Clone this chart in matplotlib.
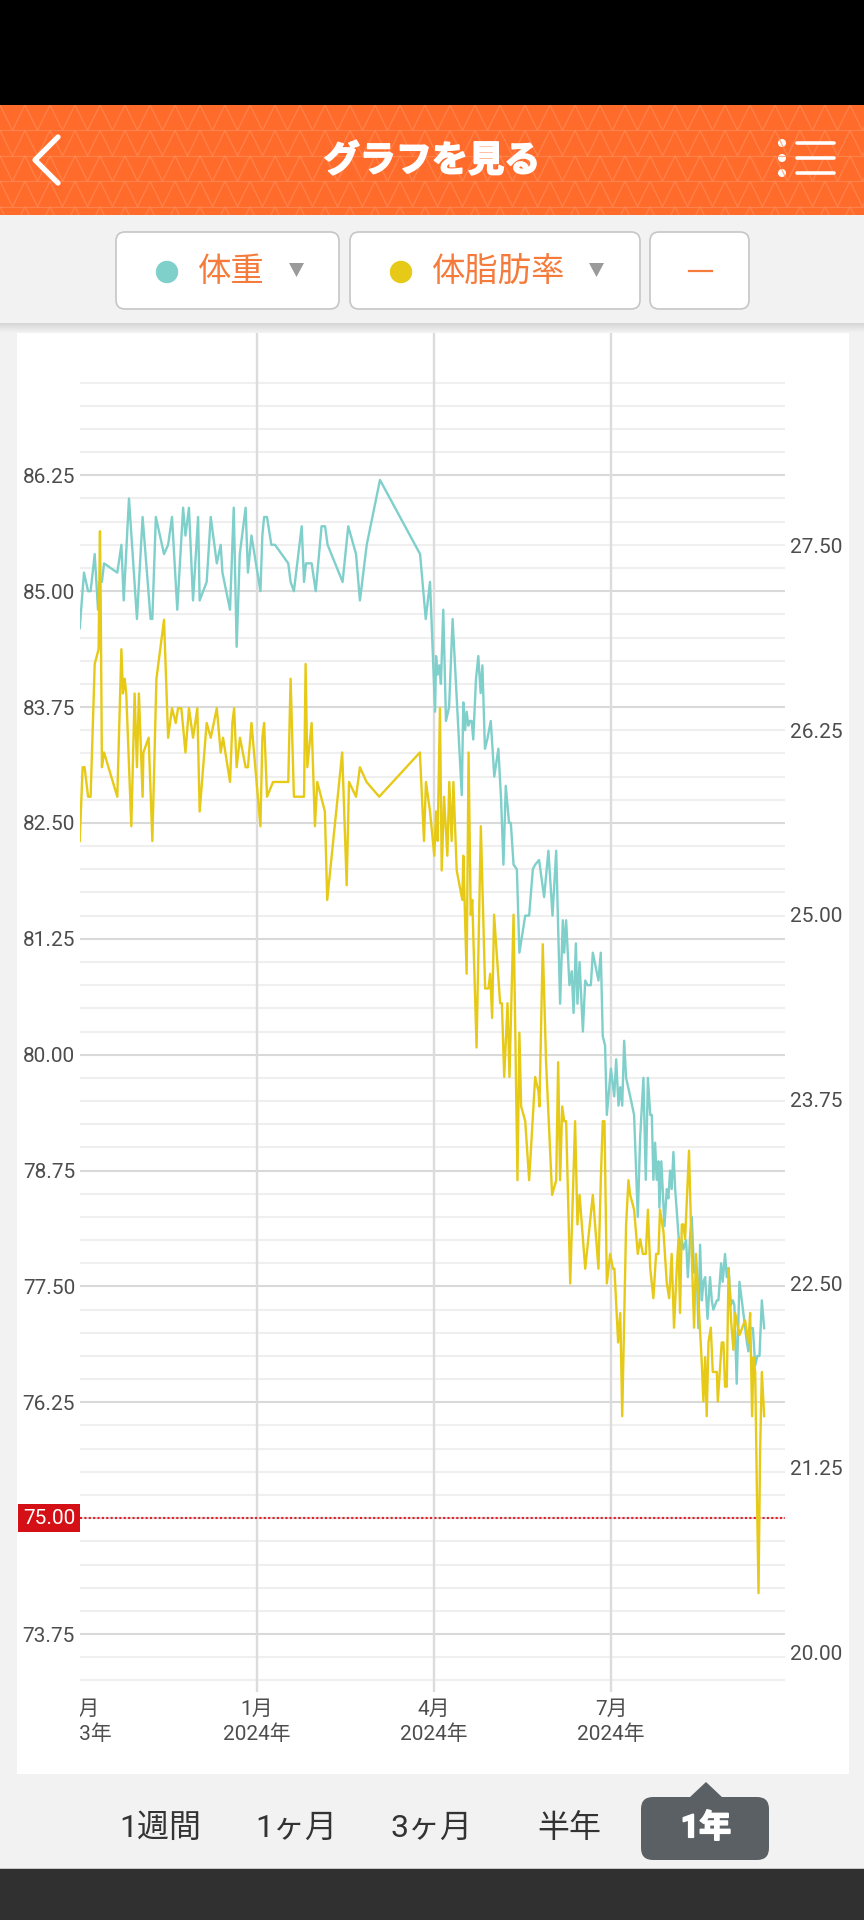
import numpy as np
import matplotlib.pyplot as plt
import matplotlib.patheffects as pe
from matplotlib.patches import Rectangle, FancyBboxPatch, Polygon, Circle

plt.rcParams['font.family'] = ['Roboto', 'Noto Sans CJK JP', 'DejaVu Sans']

# ---- data (x = days since 2023-10-01) ----
weight_day = [
    1.1, 3.3, 5.4, 6.7, 8.8, 10.5, 11.3, 12.5, 13.6, 20.4,
    22.5, 23.7, 26.4, 30.5, 33.4, 37.5, 38.4, 40.2, 44.4, 46.5,
    48.5, 51.2, 54.2, 55.4, 57.2, 59.3, 61.9, 62.7, 66.3, 68.4,
    71.5, 73.5, 74.4, 78.3, 80.2, 81.7, 83.3, 86.3, 87.5, 89.3,
    93.9, 94.9, 95.8, 97.3, 99.5, 101.4, 108.2, 109.4, 111.1, 115.1,
    116.3, 117.3, 120.2, 122.3, 125.3, 127.1, 128.4, 136.1, 139.0, 143.0,
    145.0, 148.5, 155.3, 175.9, 178.8, 181.0, 183.6, 184.1, 184.9, 185.8,
    186.6, 187.8, 189.2, 190.8, 192.6, 197.3, 198.1, 199.0, 199.8, 200.7,
    201.5, 202.4, 203.2, 204.6, 205.8, 207.0, 207.9, 209.2, 210.4, 212.2,
    214.0, 216.1, 217.5, 218.7, 219.9, 221.6, 222.5, 223.9, 225.6, 226.9,
    229.9, 231.9, 233.8, 235.0, 237.0, 239.6, 241.8, 243.9, 245.8, 247.8,
    249.2, 249.9, 250.9, 252.6, 253.8, 254.7, 255.9, 256.7, 257.8, 259.5,
    260.7, 261.9, 263.6, 264.6, 267.5, 268.7, 269.7, 270.9, 271.8, 273.9,
    275.6, 276.6, 277.8, 278.7, 279.7, 280.7, 281.7, 283.8, 285.8, 287.7,
    288.9, 290.6, 291.8, 292.9, 294.1, 294.9, 295.7, 296.6, 297.4, 298.3,
    298.8, 299.8, 301.4, 302.6, 303.4, 304.3, 305.1, 306.0, 306.9, 308.6,
    309.4, 310.3, 311.1, 312.5, 313.4, 314.6, 315.4, 316.6, 318.0, 318.8,
    319.7, 320.6, 321.4, 322.3, 323.5, 324.8, 325.7, 326.5, 328.3, 329.1,
    330.5, 331.3, 332.5, 333.4, 334.3, 335.5, 336.5, 337.3, 338.5, 339.9,
    341.1, 342.3, 343.7, 344.5, 345.4, 346.8, 348.0, 349.1, 350.2, 351.4,
    352.6,
]
weight_kg = [
    84.6, 85.2, 85.0, 85.0, 85.4, 84.8, 85.1, 85.1, 85.3, 85.2,
    85.5, 84.9, 86.0, 84.7, 85.8, 84.7, 84.7, 85.8, 85.4, 85.5,
    85.8, 84.8, 85.9, 85.6, 85.9, 84.9, 85.8, 84.9, 85.1, 85.8,
    85.3, 85.5, 85.2, 84.8, 85.9, 84.4, 85.4, 85.9, 85.2, 85.6,
    85.0, 85.6, 85.8, 85.8, 85.5, 85.5, 85.3, 85.1, 85.0, 85.7,
    85.1, 85.3, 85.3, 85.0, 85.7, 85.7, 85.5, 85.1, 85.7, 85.4,
    84.9, 85.5, 86.2, 85.4, 84.7, 85.1, 83.7, 84.3, 84.1, 84.2,
    84.0, 84.8, 83.6, 83.75, 84.7, 82.8, 83.8, 83.5, 83.7, 83.55,
    83.6, 83.6, 83.4, 84.05, 84.3, 83.9, 84.2, 83.3, 83.4, 83.6,
    83.0, 83.3, 82.75, 82.05, 82.9, 82.5, 82.5, 82.05, 82.0, 81.1,
    81.5, 81.5, 82.0, 82.05, 82.1, 81.7, 82.2, 81.5, 82.2, 80.55,
    81.45, 81.1, 81.45, 80.75, 80.9, 80.45, 81.2, 80.55, 81.0, 80.25,
    80.8, 80.75, 80.75, 81.1, 80.8, 81.1, 80.2, 80.1, 79.35, 79.85,
    79.55, 79.95, 79.45, 79.65, 79.45, 80.15, 79.75, 79.55, 79.35, 78.25,
    79.1, 79.75, 78.65, 79.75, 79.35, 79.35, 78.65, 79.05, 78.65, 78.85,
    78.35, 78.85, 78.15, 78.55, 78.45, 78.75, 78.55, 78.95, 78.55, 78.05,
    77.9, 78.0, 77.9, 78.0, 77.6, 78.05, 78.25, 77.65, 77.65, 77.05,
    77.95, 77.35, 77.55, 77.6, 77.15, 77.6, 77.35, 77.25, 77.35, 77.35,
    77.75, 77.55, 77.85, 77.6, 77.7, 77.3, 77.35, 77.3, 76.45, 77.55,
    77.35, 77.15, 76.9, 76.8, 77.05, 77.05, 76.65, 76.75, 76.75, 77.35,
    77.05,
]
fat_day = [
    1.1, 2.6, 3.6, 5.4, 6.7, 8.8, 10.8, 11.5, 11.9, 12.5,
    13.6, 20.4, 22.5, 23.3, 24.2, 25.0, 27.6, 29.3, 30.5, 31.5,
    33.4, 33.8, 36.5, 38.4, 40.5, 44.4, 46.5, 48.5, 50.4, 51.6,
    53.3, 55.4, 57.2, 59.3, 61.5, 62.7, 66.3, 68.4, 71.5, 73.5,
    74.7, 78.3, 79.5, 80.4, 81.7, 83.4, 86.3, 87.5, 89.3, 93.9,
    94.9, 95.8, 97.3, 100.4, 108.2, 109.4, 111.1, 116.3, 117.1, 118.0,
    120.2, 121.9, 123.1, 127.0, 128.2, 135.9, 138.2, 139.4, 143.0, 145.0,
    148.4, 154.9, 175.8, 177.9, 178.9, 181.0, 183.2, 184.1, 184.9, 186.1,
    187.0, 188.2, 189.9, 190.9, 192.1, 193.0, 194.7, 197.6, 198.1, 199.8,
    200.8, 201.9, 202.7, 204.9, 207.1, 209.3, 211.0, 211.9, 212.9, 213.9,
    217.0, 217.9, 219.1, 220.8, 221.8, 223.9, 225.9, 226.9, 227.8, 229.9,
    231.9, 235.0, 236.7, 237.2, 238.9, 240.6, 243.7, 245.8, 246.8, 247.8,
    248.9, 249.9, 250.9, 253.0, 255.5, 256.7, 257.8, 260.7, 264.6, 267.5,
    268.7, 269.7, 270.6, 271.8, 273.5, 274.9, 275.7, 277.6, 278.7, 279.7,
    281.7, 282.9, 283.8, 285.8, 287.7, 288.9, 290.3, 291.8, 292.9, 294.1,
    295.7, 297.1, 298.3, 299.1, 300.9, 302.6, 303.8, 305.1, 306.3, 307.7,
    308.6, 309.4, 310.3, 311.1, 312.0, 314.0, 315.4, 316.6, 317.6, 319.4,
    320.6, 321.4, 322.3, 323.1, 324.0, 325.2, 326.2, 328.3, 328.8, 330.8,
    331.7, 332.5, 333.4, 334.3, 335.6, 336.8, 337.7, 339.9, 342.8, 344.5,
    345.4, 346.4, 347.1, 348.0, 348.8, 349.7, 350.5, 351.4, 352.6,
]
fat_pct = [
    25.5, 26.0, 26.0, 25.8, 25.8, 26.7, 26.8, 27.6, 27.1, 26.0,
    26.1, 25.8, 26.8, 26.5, 26.6, 26.5, 25.6, 26.5, 26.0, 26.5,
    25.8, 26.1, 26.2, 25.5, 26.6, 27.0, 26.2, 26.4, 26.3, 26.4,
    26.4, 26.1, 26.4, 26.2, 26.4, 25.7, 26.3, 26.2, 26.4, 26.1,
    26.2, 25.9, 26.3, 26.4, 26.0, 26.2, 26.0, 26.0, 26.3, 25.6,
    26.2, 26.3, 25.8, 25.9, 25.9, 26.6, 25.8, 25.8, 26.7, 26.0,
    26.3, 25.6, 25.9, 25.7, 25.1, 26.1, 25.2, 25.9, 25.8, 26.0,
    25.9, 25.8, 26.1, 25.5, 25.9, 25.7, 25.4, 25.7, 25.5, 26.4,
    25.3, 25.8, 25.4, 25.9, 25.5, 25.9, 25.3, 25.1, 25.4, 24.6,
    26.1, 25.0, 25.1, 24.1, 25.6, 24.5, 24.5, 24.6, 24.3, 25.0,
    24.4, 24.4, 23.9, 24.4, 23.9, 25.0, 23.2, 24.2, 23.7, 23.6,
    23.2, 23.9, 23.8, 23.7, 24.8, 24.0, 23.1, 23.2, 24.0, 23.2,
    23.7, 23.6, 23.6, 22.5, 23.6, 22.9, 23.1, 22.6, 23.1, 22.6,
    23.2, 23.6, 23.6, 22.5, 22.7, 22.6, 22.6, 22.1, 22.3, 21.6,
    22.9, 23.2, 23.1, 23.0, 22.7, 22.8, 22.7, 22.7, 23.0, 22.6,
    22.4, 22.7, 22.7, 23.0, 22.85, 22.5, 22.4, 22.7, 22.2, 22.6,
    22.8, 22.3, 22.9, 22.9, 22.8, 23.4, 22.7, 22.2, 22.7, 22.25,
    21.95, 21.7, 22.0, 21.6, 22.1, 22.2, 21.9, 21.9, 21.7, 22.1,
    22.1, 21.8, 21.8, 22.6, 22.25, 22.05, 22.3, 22.15, 22.25, 22.1,
    22.3, 21.6, 22.0, 21.9, 21.15, 20.4, 21.35, 21.9, 21.6,
]
weight_ticks = [73.75, 75.00, 76.25, 77.50, 78.75, 80.00, 81.25, 82.50, 83.75, 85.00, 86.25]
fat_ticks = [20.00, 21.25, 22.50, 23.75, 25.00, 26.25, 27.50]
goal_weight = 75.00
month_day = [0, 92, 183, 274]
month_label = ['10月', '1月', '4月', '7月']
year_label = ['2023年', '2024年', '2024年', '2024年']
series_names = ['体重', '体脂肪率']
range_tabs = ['1週間', '1ヶ月', '3ヶ月', '半年', '1年']

TEAL = '#7fcfcb'
YELLOW = '#e6ca17'
ORANGE = '#f57b3c'
LABEL = '#4d4d4d'
CJK = ['Noto Sans CJK JP', 'DejaVu Sans']

W, H = 864, 1920
fig = plt.figure(figsize=(W / 100, H / 100), dpi=100)
fig.patch.set_facecolor('#f2f2f2')

# screen layer in pixel coordinates
ui = fig.add_axes([0, 0, 1, 1])
ui.set_xlim(0, W)
ui.set_ylim(H, 0)
ui.axis('off')
ui.set_zorder(0)

# status bar + orange header
ui.add_patch(Rectangle((0, 0), W, 105, color='black', lw=0))
hdr = Rectangle((0, 105), W, 110, color='#ff6b2b', lw=0)
ui.add_patch(hdr)
row_h = 25.4
for r in range(5):
    y0 = 105 + r * row_h
    xs = np.arange(-12.5, W + 25, 12.5)
    ys = [y0 + row_h if i % 2 == 0 else y0 for i in range(len(xs))]
    ln, = ui.plot(xs, ys, color='#ff8c58', lw=0.9, alpha=0.7)
    ln.set_clip_path(hdr)
    hl, = ui.plot([0, W], [y0 + row_h, y0 + row_h], color='#ff8c58', lw=0.9, alpha=0.7)
    hl.set_clip_path(hdr)

bold_white = [pe.withStroke(linewidth=1.3, foreground='white')]
ui.text(432, 161, 'グラフを見る', color='white', fontsize=26, fontweight='bold',
        ha='center', va='center', family=CJK, path_effects=bold_white)
ui.plot([58, 35, 58], [137, 160, 183], color='white', lw=3.8,
        solid_capstyle='round', solid_joinstyle='round')
for yy in (143, 158, 173):
    ui.add_patch(Circle((782, yy), 3.3, color='white'))
    ui.plot([797, 834], [yy, yy], color='white', lw=2.6, solid_capstyle='round')

# series selector bar
for k in range(10):
    g = 0.84 + 0.11 * k / 9
    ui.add_patch(Rectangle((0, 323 + k), W, 1, color=(g, g, g), lw=0))


def button(x0, x1):
    ui.add_patch(FancyBboxPatch((x0, 232), x1 - x0, 77,
                                boxstyle='round,pad=0,rounding_size=9',
                                fc='white', ec='#c6c6c6', lw=1.2))


button(116, 339)
button(350, 640)
button(650, 749)
ui.add_patch(Circle((167, 272), 10.5, color=TEAL))
ui.add_patch(Circle((401, 272), 10.5, color=YELLOW))
ui.text(231, 271, series_names[0], color=ORANGE, fontsize=24, ha='center', va='center', family=CJK)
ui.text(499, 271, series_names[1], color=ORANGE, fontsize=24, ha='center', va='center', family=CJK)
for tx in (296.5, 596.5):
    ui.add_patch(Polygon([(tx - 7.5, 263), (tx + 7.5, 263), (tx, 277)], color='#9a9a9a', lw=0))
ui.plot([689, 712], [271, 271], color=ORANGE, lw=1.6)

# chart card
ui.add_patch(Rectangle((17, 333), 832, 1441, color='white', lw=0))

# bottom range tabs
tab_x = [160, 296, 432, 569, 706]
ui.add_patch(FancyBboxPatch((641, 1797), 128, 63, boxstyle='round,pad=0,rounding_size=12',
                            fc='#5b6064', ec='none'))
ui.add_patch(Polygon([(689, 1798), (706, 1782), (723, 1798)], color='#5b6064', lw=0))
for x, s in zip(tab_x, range_tabs):
    if s == '1年':
        ui.text(x, 1828, s, color='white', fontsize=23, fontweight='bold', ha='center',
                va='center', path_effects=bold_white)
    else:
        ui.text(x, 1828, s, color='#333333', fontsize=23, ha='center', va='center')
ui.add_patch(Rectangle((0, 1868), W, 1.5, color='#c8c8c8', lw=0))
ui.add_patch(Rectangle((0, 1869), W, 51, color='#303030', lw=0))

# ---- chart ----
ax = fig.add_axes([80 / W, 1 - 1692 / H, 705 / W, 1359 / H])
ax.set_zorder(2)
ax.patch.set_alpha(0)
ax2 = ax.twinx()
ax2.set_zorder(3)

ax.set_xlim(1.25, 363.3)
ax.set_ylim(73.125, 87.785)
ax2.set_ylim(19.73, 28.944)

for v in np.arange(73.25, 87.26, 0.25):
    major = abs((v - 73.75) / 1.25 - round((v - 73.75) / 1.25)) < 1e-6
    ax.axhline(v, color='#d9d9d9' if major else '#efefef', lw=1.5, zorder=0.5)
for d in month_day:
    ax.axvline(d, color='#dcdcdc', lw=1.7, zorder=0.6)
ax.axhline(goal_weight, color='#e3202a', lw=1.5, ls=(0, (1, 1.1)), zorder=1.5)

ax.plot(weight_day, weight_kg, color=TEAL, lw=1.7, zorder=2)
ax2.plot(fat_day, fat_pct, color=YELLOW, lw=1.7, zorder=2)

left_ticks = [v for v in weight_ticks if v != goal_weight]
ax.set_yticks(left_ticks)
ax.set_yticklabels([f'{v:.2f}' for v in left_ticks])
ax.tick_params(axis='y', length=0, pad=3.6, labelsize=15, labelcolor=LABEL)
ax2.set_yticks(fat_ticks)
ax2.set_yticklabels([f'{v:.2f}' for v in fat_ticks])
ax2.tick_params(axis='y', length=0, pad=3.6, labelsize=15, labelcolor=LABEL)
ax.set_xticks([])
ax2.tick_params(axis='x', bottom=False, labelbottom=False)
for a in (ax, ax2):
    for sp in a.spines.values():
        sp.set_visible(False)

ax.annotate(f'{goal_weight:.2f}', xy=(0, goal_weight), xycoords=('axes fraction', 'data'),
            xytext=(-5, 0), textcoords='offset pixels', ha='right', va='center',
            color='white', fontsize=15,
            bbox=dict(boxstyle='square,pad=0.22', fc='#d50f16', ec='none'))

clip_rect = Rectangle((80, 0), 769, H, transform=ui.transData)
for d, m, yl in zip(month_day, month_label, year_label):
    t1 = ax.text(d, -17 / 1359, m, transform=ax.get_xaxis_transform(), ha='center',
                 va='center', fontsize=15, color=LABEL, clip_on=True)
    t2 = ax.text(d, -42 / 1359, yl, transform=ax.get_xaxis_transform(), ha='center',
                 va='center', fontsize=15, color=LABEL, clip_on=True)
    t1.set_clip_path(clip_rect)
    t2.set_clip_path(clip_rect)

fig.savefig('out.png', dpi=100)
